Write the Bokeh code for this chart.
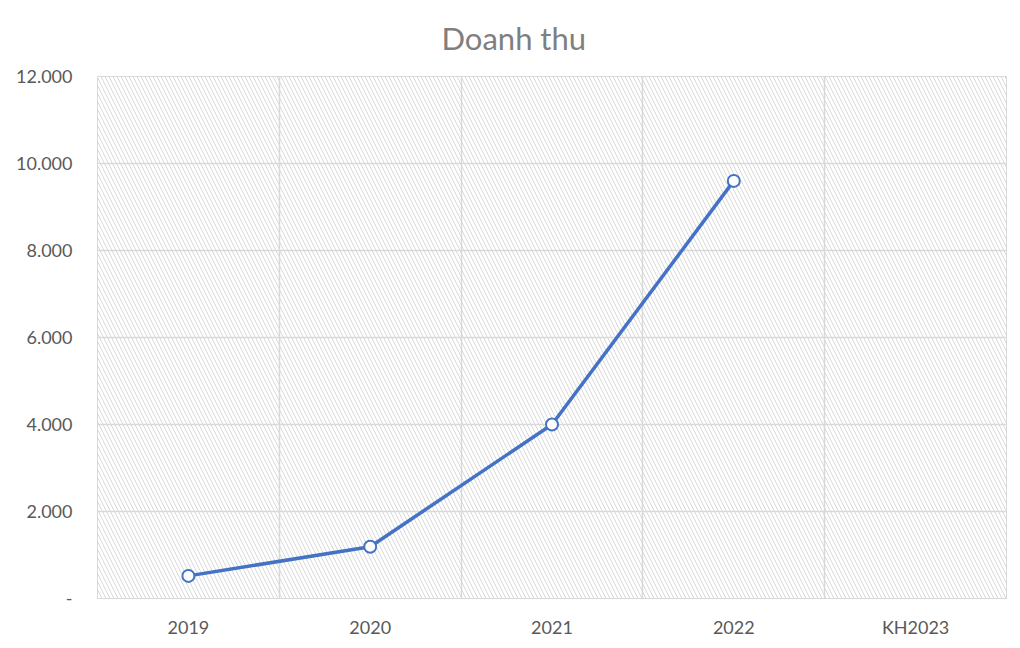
from bokeh.plotting import figure
from bokeh.models import FactorRange, Range1d, FixedTicker, BoxAnnotation, ColumnDataSource
from bokeh.embed import file_html
from bokeh.resources import INLINE

title_text = "Doanh thu"
years = ["2019", "2020", "2021", "2022", "KH2023"]
revenue = [520, 1190, 4000, 9600, float("nan")]
y_ticks = [0, 2000, 4000, 6000, 8000, 10000, 12000]
y_labels = ["-", "2.000", "4.000", "6.000", "8.000", "10.000", "12.000"]

FONT = "Lato"
GRID = "#d9d9d9"
TXT = "#595959"

src = ColumnDataSource(dict(x=years, y=revenue))

p = figure(width=1012, height=640, x_range=FactorRange(factors=years),
           y_range=Range1d(0, 12000), output_backend="svg", toolbar_location=None,
           title=title_text, min_border_left=97, min_border_right=6,
           min_border_top=76, min_border_bottom=40)

p.title.align = "left"
p.title.vertical_align = "top"
p.title.text_font = FONT
p.title.text_font_size = "31px"
p.title.text_font_style = "normal"
p.title.text_color = "#7f7f7f"
p.title.standoff = 36
p.title.offset = 344

p.add_layout(BoxAnnotation(fill_alpha=0, line_color=None, hatch_pattern="\\",
                           hatch_color="#d9d9d9", hatch_scale=8, hatch_weight=1,
                           level="image"))

p.line("x", "y", source=src, line_color="#4472C4", line_width=3.5)
p.scatter("x", "y", source=src, size=12, fill_color="white",
          line_color="#4472C4", line_width=2)

p.outline_line_color = GRID
p.outline_line_width = 1

p.xgrid.ticker = FixedTicker(ticks=[0, 1, 2, 3, 4, 5])
p.xgrid.grid_line_color = GRID
p.xgrid.grid_line_width = 1.5
p.ygrid.ticker = FixedTicker(ticks=y_ticks)
p.ygrid.grid_line_color = GRID
p.ygrid.grid_line_width = 1.5

p.yaxis.ticker = FixedTicker(ticks=y_ticks)
p.yaxis.major_label_overrides = {t: l for t, l in zip(y_ticks, y_labels)}
p.yaxis.axis_line_color = None
p.yaxis.major_tick_line_color = None
p.yaxis.minor_tick_line_color = None
p.yaxis.major_label_standoff = 19

p.xaxis.axis_line_color = GRID
p.xaxis.major_tick_line_color = None
p.xaxis.major_label_standoff = 11

for ax in (p.xaxis, p.yaxis):
    ax.major_label_text_font = FONT
    ax.major_label_text_font_size = "18px"
    ax.major_label_text_color = TXT

open("out.html", "w").write(file_html(p, INLINE))
